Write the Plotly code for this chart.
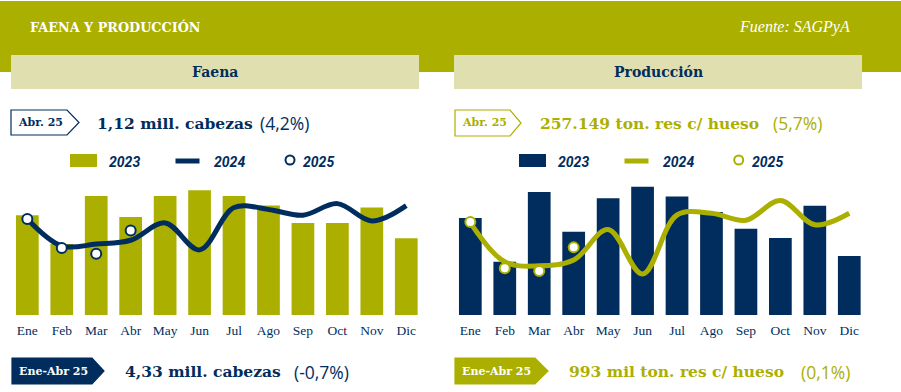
import plotly.graph_objects as go

# ---------------- data ----------------
months = ["Ene", "Feb", "Mar", "Abr", "May", "Jun", "Jul", "Ago", "Sep", "Oct", "Nov", "Dic"]

# Faena (millones de cabezas)
faena_2023 = [1.20, 1.05, 1.30, 1.19, 1.30, 1.33, 1.30, 1.25, 1.16, 1.16, 1.24, 1.08]
faena_2024 = [1.18, 1.04, 1.05, 1.07, 1.16, 1.02, 1.24, 1.23, 1.20, 1.26, 1.17, 1.25]
faena_2025 = [1.18, 1.03, 1.00, 1.12]

# Producción (miles de ton. res c/ hueso)
prod_2023 = [308, 232, 353, 284, 342, 362, 345, 318, 289, 273, 329, 242]
prod_2024 = [300, 232, 225, 235, 288, 211, 313, 316, 304, 338, 296, 316]
prod_2025 = [301, 221, 216, 257]

legend_labels = ["2023", "2024", "2025"]

# ---------------- style ----------------
W, H = 901, 392
OLIVE = "#ABB000"
NAVY = "#002D5E"
KHAKI = "#DFDFB0"
SERIF = "DejaVu Serif"
SERIF2 = "Liberation Serif"
SANS = "Open Sans"


def X(p):
    return p / W


def Y(p):
    return 1 - p / H


fig = go.Figure()

# Faena panel
fig.add_bar(x=months, y=faena_2023, width=0.66, marker=dict(color=OLIVE, line=dict(width=0)),
            xaxis="x", yaxis="y", showlegend=False, hoverinfo="x+y")
fig.add_scatter(x=months, y=faena_2024, mode="lines",
                line=dict(color=NAVY, width=5, shape="spline", smoothing=1.0),
                xaxis="x", yaxis="y", showlegend=False, cliponaxis=False)
fig.add_scatter(x=months[:len(faena_2025)], y=faena_2025, mode="markers",
                marker=dict(size=10, color="white", line=dict(color=NAVY, width=2)),
                xaxis="x", yaxis="y", showlegend=False, cliponaxis=False)

# Producción panel
fig.add_bar(x=months, y=prod_2023, width=0.66, marker=dict(color=NAVY, line=dict(width=0)),
            xaxis="x2", yaxis="y2", showlegend=False, hoverinfo="x+y")
fig.add_scatter(x=months, y=prod_2024, mode="lines",
                line=dict(color=OLIVE, width=5, shape="spline", smoothing=1.0),
                xaxis="x2", yaxis="y2", showlegend=False, cliponaxis=False)
fig.add_scatter(x=months[:len(prod_2025)], y=prod_2025, mode="markers",
                marker=dict(size=10, color="white", line=dict(color=OLIVE, width=2)),
                xaxis="x2", yaxis="y2", showlegend=False, cliponaxis=False)

tickfont = dict(family=SERIF2, size=13.5, color=NAVY)
common_x = dict(range=[-0.5, 11.5], showgrid=False, zeroline=False, showline=False,
                ticks="", tickfont=tickfont, fixedrange=True, ticklabelstandoff=5)

y_dom = [Y(315), Y(180)]

fig.update_layout(
    width=W, height=H, autosize=False,
    margin=dict(l=0, r=0, t=0, b=0),
    paper_bgcolor="white", plot_bgcolor="rgba(0,0,0,0)",
    xaxis=dict(domain=[X(10.1), X(423.5)], anchor="y", **common_x),
    yaxis=dict(domain=y_dom, range=[0.682, 0.682 + 135 * 0.00519], visible=False, fixedrange=True),
    xaxis2=dict(domain=[X(453.1), X(866.5)], anchor="y2", **common_x),
    yaxis2=dict(domain=y_dom, range=[140, 140 + 135 * 1.73], visible=False, fixedrange=True),
)

shapes = []


def rect(x0, y0, x1, y1, color):
    shapes.append(dict(type="rect", xref="paper", yref="paper", x0=X(x0), x1=X(x1),
                       y0=Y(y1), y1=Y(y0), fillcolor=color, line=dict(width=0), layer="below"))


def arrow_box(x0, y0, x1, tip, y1, fill, border):
    ym = (y0 + y1) / 2
    pts = [(x0, y0), (x1, y0), (tip, ym), (x1, y1), (x0, y1)]
    path = "M " + " L ".join(f"{X(a):.5f},{Y(b):.5f}" for a, b in pts) + " Z"
    shapes.append(dict(type="path", xref="paper", yref="paper", path=path,
                       fillcolor=fill, line=dict(color=border, width=1.2), layer="above"))


# header band and panel title boxes
rect(0, 1, W, 72, OLIVE)
rect(11, 55, 419, 89, KHAKI)
rect(454, 55, 862, 89, KHAKI)

# label boxes
arrow_box(11, 110, 67, 79, 135, "white", NAVY)
arrow_box(455, 110, 510, 521, 136, "white", OLIVE)
arrow_box(12, 358, 92, 104, 384, NAVY, NAVY)
arrow_box(455, 358, 535, 548, 384, OLIVE, OLIVE)

annots = []


# custom legends
def legend(x_bar, x_line, x_dot, bar_color, line_color, txt_x):
    shapes.append(dict(type="rect", xref="paper", yref="paper", x0=X(x_bar), x1=X(x_bar + 27),
                       y0=Y(167), y1=Y(154), fillcolor=bar_color, line=dict(width=0)))
    shapes.append(dict(type="line", xref="paper", yref="paper", x0=X(x_line), x1=X(x_line + 24),
                       y0=Y(161), y1=Y(161), line=dict(color=line_color, width=5)))
    shapes.append(dict(type="circle", xref="paper", yref="paper", x0=X(x_dot - 4.5), x1=X(x_dot + 4.5),
                       y0=Y(164.5), y1=Y(155.5), fillcolor="white", line=dict(color=line_color, width=2)))
    for lab, tx in zip(legend_labels, txt_x):
        annots.append(dict(x=X(tx), y=Y(161.5), xref="paper", yref="paper", xanchor="left", yanchor="middle",
                           text=f"<b><i>{lab}</i></b>", showarrow=False,
                           font=dict(family="Roboto", size=14, color=NAVY)))


legend(70, 175.5, 290, OLIVE, NAVY, [107, 212, 301])
legend(519, 624.5, 738.7, NAVY, OLIVE, [556, 661, 750])


def txt(x, y, text, size, color, family, xanchor="left"):
    annots.append(dict(x=X(x), y=Y(y), xref="paper", yref="paper", xanchor=xanchor, yanchor="middle",
                       text=text, showarrow=False, font=dict(family=family, size=size, color=color)))


# header texts
txt(28, 27, "<b>FAENA Y PRODUCCIÓN</b>", 12.8, "white", SERIF)
txt(852, 27, "<i>Fuente: SAGPyA</i>", 16, "white", SERIF2, xanchor="right")
txt(215, 72, "<b>Faena</b>", 14, NAVY, SERIF, xanchor="center")
txt(658, 72, "<b>Producción</b>", 14, NAVY, SERIF, xanchor="center")

# top highlight row
txt(40, 123, "<b>Abr. 25</b>", 11, NAVY, SERIF, xanchor="center")
txt(95, 123.5, "<b>1,12 mill. cabezas</b>", 15.5, NAVY, SERIF)
txt(258, 123.5, "(4,2%)", 17.5, NAVY, SANS)
txt(484, 123, "<b>Abr. 25</b>", 11, OLIVE, SERIF, xanchor="center")
txt(538, 123.5, "<b>257.149 ton. res c/ hueso</b>", 15.5, OLIVE, SERIF)
txt(771, 123.5, "(5,7%)", 17.5, OLIVE, SANS)

# bottom highlight row
txt(53, 371, "<b>Ene-Abr 25</b>", 11, "white", SERIF, xanchor="center")
txt(122.5, 371.5, "<b>4,33 mill. cabezas</b>", 15.5, NAVY, SERIF)
txt(291.5, 371.5, "(-0,7%)", 17.5, NAVY, SANS)
txt(496, 371, "<b>Ene-Abr 25</b>", 11, "white", SERIF, xanchor="center")
txt(566.5, 371.5, "<b>993 mil ton. res c/ hueso</b>", 15.5, OLIVE, SERIF)
txt(799, 371.5, "(0,1%)", 17.5, OLIVE, SANS)

fig.update_layout(shapes=shapes, annotations=annots)

fig.write_html("out.html", config={"displayModeBar": False},
               post_script="document.body.style.margin='0';document.body.style.overflow='hidden';")
